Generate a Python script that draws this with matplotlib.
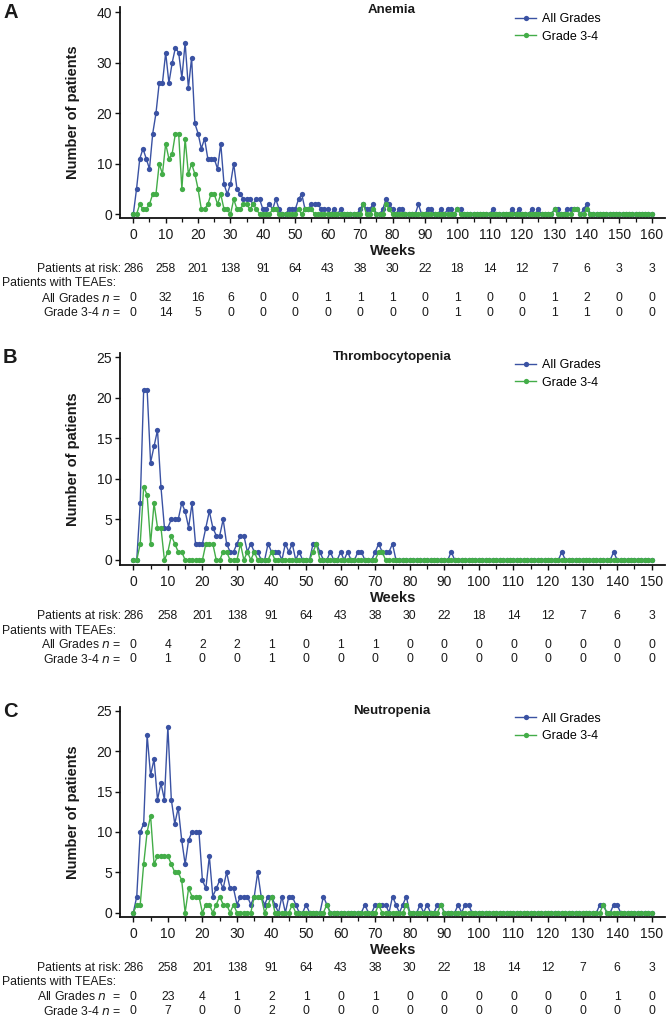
import matplotlib
matplotlib.use("Agg")
import matplotlib.pyplot as plt
import matplotlib.transforms as mtransforms
from matplotlib.ticker import MultipleLocator

# ---------------- DATA ----------------
weeks_a = list(range(0, 161))
weeks_bc = list(range(0, 151))

anemia_all = [
    0, 5, 11, 13, 11, 9, 16, 20, 26, 26,
    32, 26, 30, 33, 32, 27, 34, 25, 31, 18,
    16, 13, 15, 11, 11, 11, 9, 14, 6, 4,
    6, 10, 5, 4, 3, 3, 3, 2, 3, 3,
    1, 1, 2, 1, 3, 1, 0, 0, 1, 1,
    1, 3, 4, 1, 1, 2, 2, 2, 1, 1,
    1, 0, 1, 0, 1, 0, 0, 0, 0, 0,
    1, 2, 1, 1, 2, 0, 0, 1, 3, 2,
    1, 0, 1, 1, 0, 0, 0, 0, 2, 0,
    0, 1, 1, 0, 0, 1, 0, 1, 1, 0,
    1, 1, 0, 0, 0, 0, 0, 0, 0, 0,
    0, 1, 0, 0, 0, 0, 0, 1, 0, 1,
    0, 0, 0, 1, 0, 1, 0, 0, 0, 0,
    1, 1, 0, 0, 1, 1, 1, 1, 0, 1,
    2, 0, 0, 0, 0, 0, 0, 0, 0, 0,
    0, 0, 0, 0, 0, 0, 0, 0, 0, 0, 0]
anemia_g34 = [
    0, 0, 2, 1, 1, 2, 4, 4, 10, 8,
    14, 11, 12, 16, 16, 5, 15, 8, 10, 8,
    5, 1, 1, 2, 4, 4, 2, 4, 1, 1,
    0, 3, 1, 1, 2, 2, 1, 2, 1, 0,
    0, 0, 0, 1, 1, 0, 0, 0, 0, 0,
    0, 1, 0, 1, 1, 1, 0, 0, 0, 0,
    0, 0, 0, 0, 0, 0, 0, 0, 0, 0,
    0, 2, 0, 0, 1, 0, 0, 0, 2, 1,
    0, 0, 0, 0, 0, 0, 0, 0, 0, 0,
    0, 0, 0, 0, 0, 0, 0, 0, 0, 0,
    1, 0, 0, 0, 0, 0, 0, 0, 0, 0,
    0, 0, 0, 0, 0, 0, 0, 0, 0, 0,
    0, 0, 0, 0, 0, 0, 0, 0, 0, 0,
    1, 0, 0, 0, 0, 0, 1, 1, 0, 0,
    1, 0, 0, 0, 0, 0, 0, 0, 0, 0,
    0, 0, 0, 0, 0, 0, 0, 0, 0, 0, 0]

thrombo_all = [
    0, 0, 7, 21, 21, 12, 14, 16, 9, 4,
    4, 5, 5, 5, 7, 6, 4, 7, 2, 2,
    2, 4, 6, 4, 3, 3, 5, 2, 1, 1,
    2, 3, 3, 1, 2, 1, 1, 0, 0, 2,
    1, 1, 1, 0, 2, 1, 2, 0, 1, 0,
    0, 0, 2, 2, 1, 0, 0, 1, 0, 0,
    1, 0, 1, 0, 0, 1, 1, 0, 0, 0,
    1, 2, 1, 1, 1, 2, 0, 0, 0, 0,
    0, 0, 0, 0, 0, 0, 0, 0, 0, 0,
    0, 0, 1, 0, 0, 0, 0, 0, 0, 0,
    0, 0, 0, 0, 0, 0, 0, 0, 0, 0,
    0, 0, 0, 0, 0, 0, 0, 0, 0, 0,
    0, 0, 0, 0, 1, 0, 0, 0, 0, 0,
    0, 0, 0, 0, 0, 0, 0, 0, 0, 1,
    0, 0, 0, 0, 0, 0, 0, 0, 0, 0, 0]
thrombo_g34 = [
    0, 0, 2, 9, 8, 2, 7, 4, 4, 0,
    1, 3, 2, 1, 1, 0, 0, 0, 0, 0,
    0, 2, 2, 2, 0, 0, 1, 1, 0, 0,
    0, 2, 0, 1, 0, 1, 0, 0, 0, 0,
    1, 0, 0, 0, 0, 0, 0, 0, 0, 0,
    0, 0, 1, 2, 0, 0, 0, 0, 0, 0,
    0, 0, 0, 0, 0, 0, 0, 0, 0, 0,
    0, 1, 1, 0, 0, 0, 0, 0, 0, 0,
    0, 0, 0, 0, 0, 0, 0, 0, 0, 0,
    0, 0, 0, 0, 0, 0, 0, 0, 0, 0,
    0, 0, 0, 0, 0, 0, 0, 0, 0, 0,
    0, 0, 0, 0, 0, 0, 0, 0, 0, 0,
    0, 0, 0, 0, 0, 0, 0, 0, 0, 0,
    0, 0, 0, 0, 0, 0, 0, 0, 0, 0,
    0, 0, 0, 0, 0, 0, 0, 0, 0, 0, 0]

neutro_all = [
    0, 2, 10, 11, 22, 17, 19, 14, 16, 14,
    23, 14, 11, 13, 9, 6, 9, 10, 10, 10,
    4, 3, 7, 2, 3, 4, 3, 5, 3, 3,
    1, 2, 2, 2, 1, 2, 5, 2, 1, 2,
    2, 1, 0, 2, 0, 2, 2, 1, 0, 0,
    1, 0, 0, 0, 0, 2, 1, 0, 0, 0,
    0, 0, 0, 0, 0, 0, 0, 1, 0, 0,
    1, 1, 1, 1, 0, 2, 1, 0, 1, 2,
    0, 0, 0, 1, 0, 1, 0, 0, 1, 1,
    0, 0, 0, 0, 1, 0, 1, 1, 0, 0,
    0, 0, 0, 0, 0, 0, 0, 0, 0, 0,
    0, 0, 0, 0, 0, 0, 0, 0, 0, 0,
    0, 0, 0, 0, 0, 0, 0, 0, 0, 0,
    0, 0, 0, 0, 0, 1, 1, 0, 0, 1,
    1, 0, 0, 0, 0, 0, 0, 0, 0, 0, 0]
neutro_g34 = [
    0, 1, 1, 6, 10, 12, 6, 7, 7, 7,
    7, 6, 5, 5, 4, 0, 3, 2, 2, 2,
    0, 1, 1, 0, 1, 2, 1, 1, 0, 1,
    0, 0, 0, 0, 0, 2, 2, 2, 0, 1,
    2, 0, 0, 0, 0, 0, 1, 0, 0, 0,
    0, 0, 0, 0, 0, 0, 1, 0, 0, 0,
    0, 0, 0, 0, 0, 0, 0, 0, 0, 0,
    0, 1, 0, 0, 0, 0, 0, 0, 0, 1,
    0, 0, 0, 0, 0, 0, 0, 0, 0, 1,
    0, 0, 0, 0, 0, 0, 0, 0, 0, 0,
    0, 0, 0, 0, 0, 0, 0, 0, 0, 0,
    0, 0, 0, 0, 0, 0, 0, 0, 0, 0,
    0, 0, 0, 0, 0, 0, 0, 0, 0, 0,
    0, 0, 0, 0, 0, 0, 1, 0, 0, 0,
    0, 0, 0, 0, 0, 0, 0, 0, 0, 0, 0]

table_weeks_a = [0, 10, 20, 30, 40, 50, 60, 70, 80, 90, 100, 110, 120, 130, 140, 150, 160]
table_weeks_bc = [0, 10, 20, 30, 40, 50, 60, 70, 80, 90, 100, 110, 120, 130, 140, 150]
risk_a = [286, 258, 201, 138, 91, 64, 43, 38, 30, 22, 18, 14, 12, 7, 6, 3, 3]
risk_bc = [286, 258, 201, 138, 91, 64, 43, 38, 30, 22, 18, 14, 12, 7, 6, 3]
teae_all_a = [0, 32, 16, 6, 0, 0, 1, 1, 1, 0, 1, 0, 0, 1, 2, 0, 0]
teae_g34_a = [0, 14, 5, 0, 0, 0, 0, 0, 0, 0, 1, 0, 0, 1, 1, 0, 0]
teae_all_b = [0, 4, 2, 2, 1, 0, 1, 1, 0, 0, 0, 0, 0, 0, 0, 0]
teae_g34_b = [0, 1, 0, 0, 1, 0, 0, 0, 0, 0, 0, 0, 0, 0, 0, 0]
teae_all_c = [0, 23, 4, 1, 2, 1, 0, 1, 0, 0, 0, 0, 0, 0, 1, 0]
teae_g34_c = [0, 7, 0, 0, 2, 0, 0, 0, 0, 0, 0, 0, 0, 0, 0, 0]

titles = ["Anemia", "Thrombocytopenia", "Neutropenia"]
letters = ["A", "B", "C"]
series_labels = ["All Grades", "Grade 3-4"]

# ---------------- STYLE ----------------
plt.rcParams['font.family'] = ['Liberation Sans', 'DejaVu Sans']
plt.rcParams['mathtext.fontset'] = 'custom'
plt.rcParams['mathtext.rm'] = 'Liberation Sans Narrow'
plt.rcParams['mathtext.it'] = 'Liberation Sans Narrow:italic'
NARROW = ['Liberation Sans Narrow', 'Liberation Sans', 'DejaVu Sans']
BLUE = '#3a52a3'
GREEN = '#43ad48'
TXT = '#1a1a1a'
TFS = 8.8

W, H = 666, 1018
fig = plt.figure(figsize=(W / 100, H / 100), dpi=100)


def fx(x):
    return x / W


def fy(y):
    return 1 - y / H


panels = [
    dict(x=weeks_a, all=anemia_all, g34=anemia_g34, top=7, bot=218, ylim=(-0.73, 41.05),
         xlim=(-4.1, 164.1), yt=10, ymax=40, tw=table_weeks_a, risk=risk_a,
         ta=teae_all_a, tg=teae_g34_a, xmax=160),
    dict(x=weeks_bc, all=thrombo_all, g34=thrombo_g34, top=353, bot=565, ylim=(-0.62, 25.5),
         xlim=(-3.85, 153.85), yt=5, ymax=25, tw=table_weeks_bc, risk=risk_bc,
         ta=teae_all_b, tg=teae_g34_b, xmax=150),
    dict(x=weeks_bc, all=neutro_all, g34=neutro_g34, top=706.7, bot=916.7, ylim=(-0.5, 25.5),
         xlim=(-3.85, 153.85), yt=5, ymax=25, tw=table_weeks_bc, risk=risk_bc,
         ta=teae_all_c, tg=teae_g34_c, xmax=150),
]

for i, p in enumerate(panels):
    top, bot = p['top'], p['bot']
    ax = fig.add_axes([fx(120), fy(bot), fx(665) - fx(120), (bot - top) / H])
    ax.plot(p['x'], p['all'], color=BLUE, lw=1.0, marker='o', ms=3.8, mew=0,
            label=series_labels[0], zorder=3, clip_on=False)
    ax.plot(p['x'], p['g34'], color=GREEN, lw=1.0, marker='o', ms=3.8, mew=0,
            label=series_labels[1], zorder=4, clip_on=False)
    ax.set_xlim(*p['xlim'])
    ax.set_ylim(*p['ylim'])
    ax.spines['top'].set_visible(False)
    ax.spines['right'].set_visible(False)
    for s in ('left', 'bottom'):
        ax.spines[s].set_linewidth(1.3)
        ax.spines[s].set_color('#111111')
    ax.set_yticks(list(range(0, p['ymax'] + 1, p['yt'])))
    ax.set_xticks(p['tw'])
    ax.xaxis.set_minor_locator(MultipleLocator(5))
    ax.tick_params(axis='both', which='major', direction='out', length=3.8, width=1.0,
                   labelsize=10, colors='#111111', labelcolor=TXT)
    ax.tick_params(axis='x', which='major', pad=3.5)
    ax.tick_params(axis='y', which='major', pad=2.0)
    ax.tick_params(axis='x', which='minor', direction='out', length=2.6, width=0.9, colors='#111111')
    ax.patch.set_alpha(0)

    # title, letter, labels
    title_y = top + 3 if i == 0 else top + 4
    fig.text(fx(392), fy(title_y), titles[i], ha='center', va='center', fontsize=9.5,
             fontweight='bold', color=TXT)
    fig.text(fx(3), fy(top + 5), letters[i], ha='left', va='center', fontsize=14.5,
             fontweight='bold', color=TXT)
    fig.text(fx(73), fy((top + bot) / 2), "Number of patients", rotation=90, ha='center',
             va='center', fontsize=10.5, fontweight='bold', color=TXT)
    fig.text(fx(393), fy(bot + 33), "Weeks", ha='center', va='center', fontsize=10.5,
             fontweight='bold', color=TXT)

    # legend
    ax.legend(loc='upper left', bbox_to_anchor=(fx(515), fy(top + 6)),
              bbox_transform=fig.transFigure, frameon=False, fontsize=9,
              handlelength=1.7, handletextpad=0.5, labelspacing=0.45,
              borderpad=0, borderaxespad=0)

    # risk table
    trans = mtransforms.blended_transform_factory(ax.transData, fig.transFigure)
    ry = [bot + 51, bot + 65.5, bot + 80, bot + 94.5]
    fig.text(fx(121), fy(ry[0]), "Patients at risk:", ha='right', va='center',
             fontsize=TFS, family=NARROW, color=TXT)
    fig.text(fx(2), fy(ry[1]), "Patients with TEAEs:", ha='left', va='center',
             fontsize=TFS, family=NARROW, color=TXT)
    eq = " =" if i < 2 else "  ="
    fig.text(fx(121), fy(ry[2]), "All Grades $n$" + eq, ha='right', va='center',
             fontsize=TFS, family=NARROW, color=TXT)
    fig.text(fx(121), fy(ry[3]), "Grade 3-4 $n$ =", ha='right', va='center',
             fontsize=TFS, family=NARROW, color=TXT)
    for w, r, a, g in zip(p['tw'], p['risk'], p['ta'], p['tg']):
        ax.text(w, fy(ry[0]), str(r), transform=trans, ha='center', va='center',
                fontsize=TFS, family=NARROW, color=TXT, clip_on=False)
        ax.text(w, fy(ry[2]), str(a), transform=trans, ha='center', va='center',
                fontsize=TFS, family=NARROW, color=TXT, clip_on=False)
        ax.text(w, fy(ry[3]), str(g), transform=trans, ha='center', va='center',
                fontsize=TFS, family=NARROW, color=TXT, clip_on=False)

fig.savefig("out.png", dpi=100)
